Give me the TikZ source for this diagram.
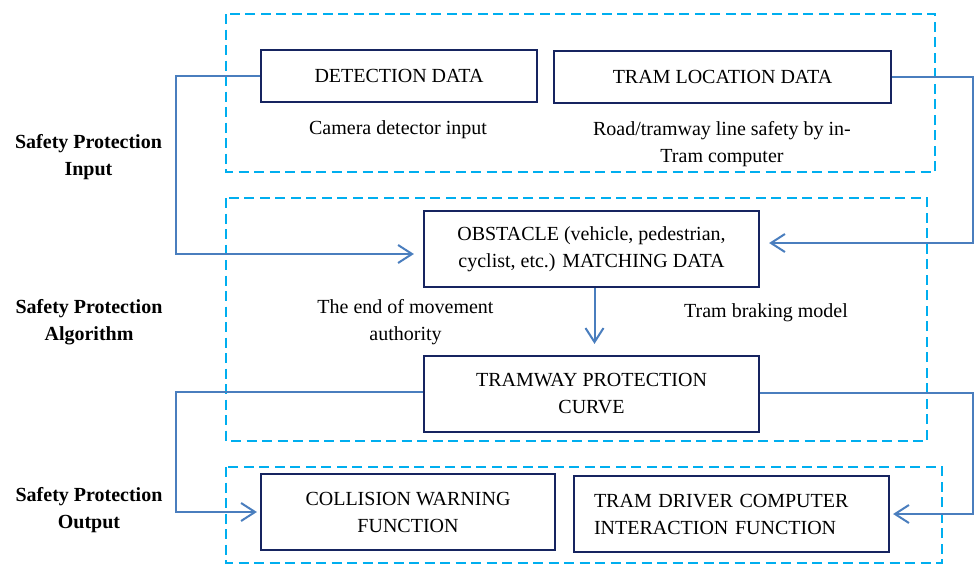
\documentclass[tikz,border=0pt]{standalone}
\usepackage{fontspec}
\setmainfont{Liberation Serif}
\usetikzlibrary{arrows.meta,calc}
\definecolor{dashblue}{RGB}{0,174,239}
\definecolor{connblue}{RGB}{74,126,190}
\definecolor{navy}{RGB}{22,36,96}
\tikzset{
  grp/.style={draw=dashblue, line width=2.6pt, dash pattern=on 10pt off 5.5pt},
  box/.style={draw=navy, line width=2.2pt, inner sep=0pt, align=center,
    font=\fontsize{20}{27}\selectfont},
  conn/.style={draw=connblue, line width=2pt, -{Straight Barb[length=14pt,width=18pt,line width=2pt]}},
  lbl/.style={align=center, inner sep=0pt, font=\fontsize{20}{27}\selectfont},
  side/.style={align=center, inner sep=0pt, font=\fontsize{20}{27}\selectfont\bfseries}
}
\begin{document}
\begin{tikzpicture}[x=1pt,y=-1pt]
\useasboundingbox (0,0) rectangle (974,565);
% group frames
\draw[grp] (226,14) rectangle (935,172);
\draw[grp] (226,198) rectangle (927,441);
\draw[grp] (226,467) rectangle (942,563);
% boxes
\node[box, minimum width=276pt, minimum height=52pt] (det) at (399,76) {DETECTION DATA};
\node[box, minimum width=337pt, minimum height=52pt] (loc) at (722.5,77) {TRAM LOCATION DATA};
\node[box, minimum width=335pt, minimum height=76pt] (obs) at (591.5,249) {OBSTACLE (vehicle, pedestrian,\\cyclist, etc.) MATCHING DATA};
\node[box, minimum width=335pt, minimum height=76pt] (prot) at (591.5,394) {TRAMWAY PROTECTION\\CURVE};
\node[box, minimum width=294pt, minimum height=76pt] (coll) at (408,512) {COLLISION WARNING\\FUNCTION};
\node[box, minimum width=315pt, minimum height=76pt, text width=275pt, align=left] (drv) at (731.5,514) {TRAM DRIVER COMPUTER\\INTERACTION FUNCTION};
% labels
\node[side] (sin) at (88.5,157) {Safety Protection\\Input};
\node[side] (sal) at (89,322) {Safety Protection\\Algorithm};
\node[side] (sout) at (89,510) {Safety Protection\\Output};
\node[lbl] (cam) at (398,130) {Camera detector input};
\node[lbl] (road) at (722,144) {Road/tramway line safety by in-\\Tram computer};
\node[lbl] (eoa) at (405.5,322) {The end of movement\\authority};
\node[lbl] (brk) at (766,313) {Tram braking model};
% connector coordinates
\coordinate (lx) at (176,0);
\coordinate (rx) at (973,0);
\coordinate (obsin) at ($(obs.west)+(-9,5)$);
\coordinate (obsinr) at ($(obs.east)+(9,-6)$);
\coordinate (collin) at ($(coll.west)+(-3,0)$);
\coordinate (drvin) at ($(drv.east)+(3,0)$);
% connectors
\draw[conn] (det.west) -- (det.west -| lx) -- (lx |- obsin) -- (obsin);
\draw[conn] (loc.east) -- (loc.east -| rx) -- (rx |- obsinr) -- (obsinr);
\draw[conn] ($(obs.south)+(3,0)$) -- ($(prot.north)+(3,-11)$);
\draw[conn] ($(prot.west)+(0,-2)$) -- ($(prot.west -| lx)+(0,-2)$) -- (lx |- collin) -- (collin);
\draw[conn] ($(prot.east)+(0,-1)$) -- ($(prot.east -| rx)+(0,-1)$) -- (rx |- drvin) -- (drvin);
\end{tikzpicture}
\end{document}
